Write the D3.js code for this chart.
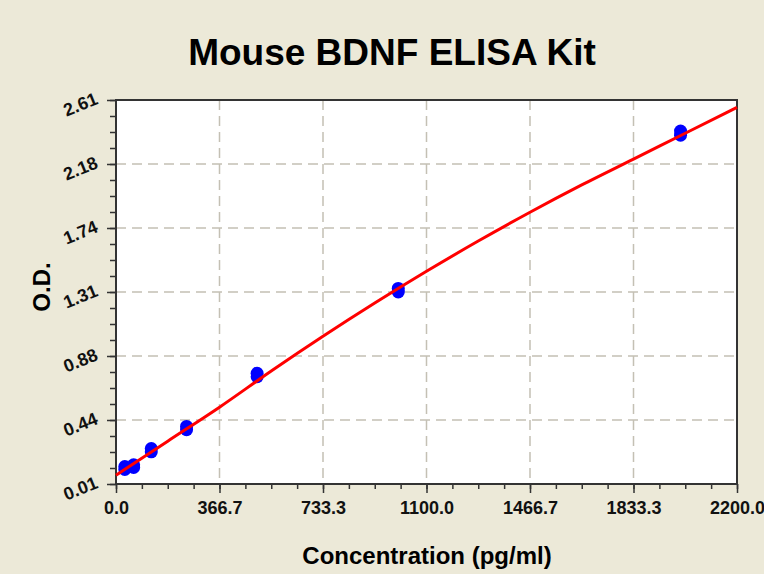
<!DOCTYPE html>
<html>
<head>
<meta charset="utf-8">
<script src="https://cdn.jsdelivr.net/npm/d3@7"></script>
<style>
  body { margin: 0; background: #ece9d8; }
  svg { display: block; font-family: "Liberation Sans", Arial, sans-serif; }
</style>
</head>
<body>
<svg width="764" height="574"></svg>
<script>
// standards (pg/ml) and O.D. readings, two replicates each
var conc = [31.25, 62.5, 125, 250, 500, 1000, 2000];
var odRep1 = [0.108, 0.122, 0.228, 0.378, 0.736, 1.310, 2.372];
var odRep2 = [0.128, 0.140, 0.250, 0.400, 0.760, 1.334, 2.400];

// fitted curve
var fitConc = [0, 183.3, 366.7, 550, 733.3, 916.7, 1100, 1283.3, 1466.7, 1650, 1833.3, 2016.7, 2200];
var fitOD   = [0.07, 0.30, 0.53, 0.775, 1.01, 1.235, 1.45, 1.655, 1.85, 2.035, 2.21, 2.385, 2.56];

var xTickLabels = ["0.0", "366.7", "733.3", "1100.0", "1466.7", "1833.3", "2200.0"];
var yTickLabels = ["0.01", "0.44", "0.88", "1.31", "1.74", "2.18", "2.61"];

var svg = d3.select("svg");
var plotL = 116, plotR = 737, plotT = 100, plotB = 484;

var xScale = d3.scaleLinear()
               .domain([0, 2200])
               .range([plotL, plotR]);
var yScale = d3.scaleLinear()
               .domain([0.01, 2.61])
               .range([plotB, plotT]);

var xMajor = xTickLabels.map(function(d, i) { return i * 2200 / 6; });
var yMajor = yTickLabels.map(function(d, i) { return 0.01 + i * 2.6 / 6; });
var xMinor = d3.range(25).map(function(i) { return i * 2200 / 24; });
var yMinor = d3.range(25).map(function(i) { return 0.01 + i * 2.6 / 24; });

// plot area
svg.append("rect")
   .attr("x", plotL).attr("y", plotT)
   .attr("width", plotR - plotL).attr("height", plotB - plotT)
   .attr("fill", "#fff");

// dashed grid
svg.append("g").selectAll("line")
   .data(yMajor.slice(1, -1))
   .enter().append("line")
   .attr("x1", plotL).attr("x2", plotR)
   .attr("y1", function(d) { return yScale(d); })
   .attr("y2", function(d) { return yScale(d); })
   .attr("stroke", "#c4c0b4").attr("stroke-width", 1.5)
   .attr("stroke-dasharray", "10,6");
svg.append("g").selectAll("line")
   .data(xMajor.slice(1, -1))
   .enter().append("line")
   .attr("y1", plotT).attr("y2", plotB)
   .attr("x1", function(d) { return xScale(d); })
   .attr("x2", function(d) { return xScale(d); })
   .attr("stroke", "#c4c0b4").attr("stroke-width", 1.5)
   .attr("stroke-dasharray", "10,6");

// minor ticks
svg.append("g")
   .attr("transform", "translate(0," + plotB + ")")
   .call(d3.axisBottom(xScale).tickValues(xMinor).tickSize(5).tickFormat(""))
   .call(function(g) { g.select(".domain").remove(); });
svg.append("g")
   .attr("transform", "translate(" + plotL + ",0)")
   .call(d3.axisLeft(yScale).tickValues(yMinor).tickSize(6).tickFormat(""))
   .call(function(g) { g.select(".domain").remove(); });

// major ticks + labels
var xAxis = svg.append("g")
   .attr("transform", "translate(0," + plotB + ")")
   .call(d3.axisBottom(xScale).tickValues(xMajor).tickSize(9).tickSizeOuter(0)
          .tickFormat(function(d, i) { return xTickLabels[i]; }));
xAxis.attr("font-family", null).attr("font-size", null);
xAxis.selectAll("text")
   .attr("y", 17)
   .attr("dy", "0.71em")
   .attr("font-size", 18).attr("font-weight", "bold")
   .attr("fill", "#111");

var yAxis = svg.append("g")
   .attr("transform", "translate(" + plotL + ",0)")
   .call(d3.axisLeft(yScale).tickValues(yMajor).tickSize(9).tickSizeOuter(0)
          .tickFormat(function(d, i) { return yTickLabels[i]; }));
yAxis.attr("font-family", null).attr("font-size", null);
yAxis.selectAll("text")
   .attr("x", 0).attr("dy", 0)
   .attr("text-anchor", "end")
   .attr("font-size", 18).attr("font-weight", "bold")
   .attr("fill", "#111")
   .attr("transform", "translate(-17,3) rotate(-22)");

svg.selectAll(".tick line").attr("stroke", "#333").attr("stroke-width", 1.5);
svg.selectAll(".domain").remove();

// frame
svg.append("rect")
   .attr("x", plotL).attr("y", plotT)
   .attr("width", plotR - plotL).attr("height", plotB - plotT)
   .attr("fill", "none").attr("stroke", "#333").attr("stroke-width", 2);

// fitted curve
var lineGenerator = d3.line()
   .x(function(d, i) { return xScale(fitConc[i]); })
   .y(function(d) { return yScale(d); })
   .curve(d3.curveMonotoneX);

// points
var pts = svg.append("g");
[odRep1, odRep2].forEach(function(rep) {
  pts.selectAll(null)
     .data(rep)
     .enter().append("circle")
     .attr("cx", function(d, i) { return xScale(conc[i]); })
     .attr("cy", function(d) { return yScale(d); })
     .attr("r", 6.5)
     .attr("fill", "#0000ff");
});

svg.append("path")
   .attr("d", lineGenerator(fitOD))
   .attr("fill", "none")
   .attr("stroke", "#ff0000")
   .attr("stroke-width", 3);

// titles
svg.append("text")
   .attr("x", 392).attr("y", 65)
   .attr("text-anchor", "middle")
   .attr("font-size", 37).attr("font-weight", "bold")
   .text("Mouse BDNF ELISA Kit");

svg.append("text")
   .attr("x", 427).attr("y", 564)
   .attr("text-anchor", "middle")
   .attr("font-size", 24).attr("font-weight", "bold")
   .text("Concentration (pg/ml)");

svg.append("text")
   .attr("transform", "translate(50,287) rotate(-90)")
   .attr("text-anchor", "middle")
   .attr("font-size", 24).attr("font-weight", "bold")
   .text("O.D.");
</script>
</body>
</html>
